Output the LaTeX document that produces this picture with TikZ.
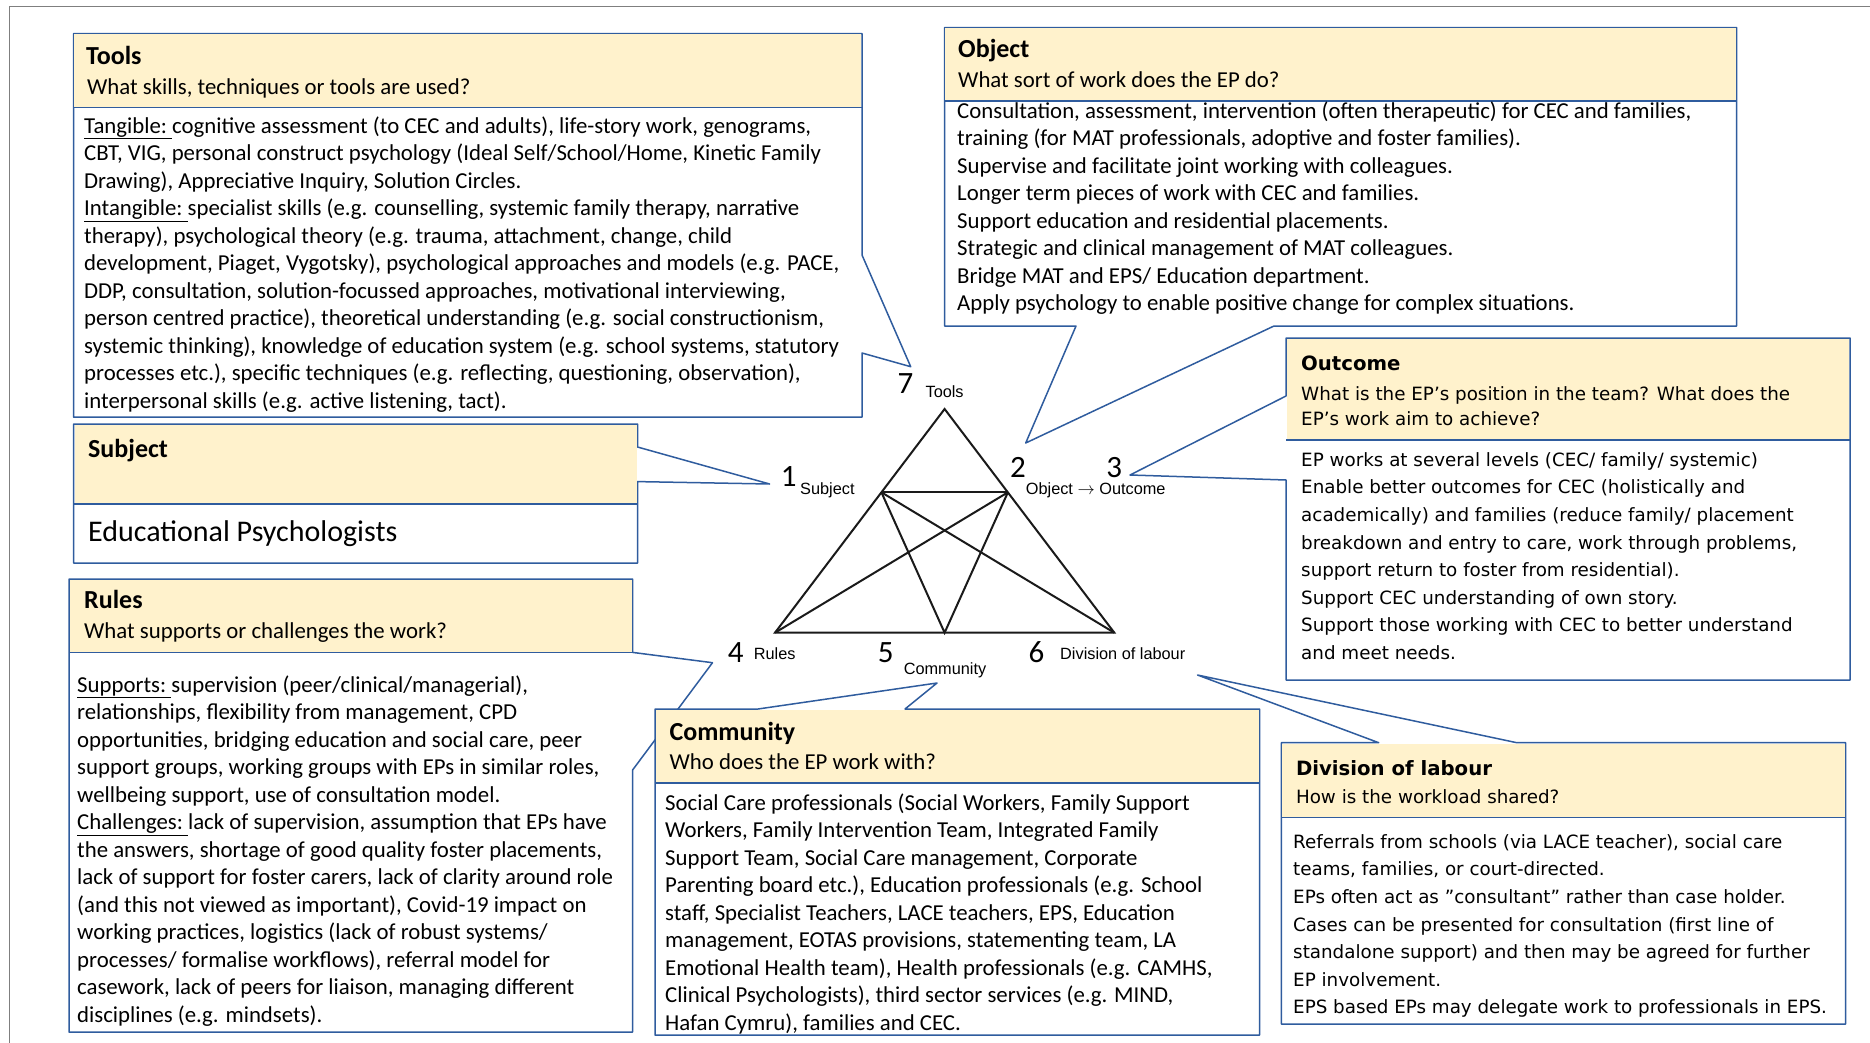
\documentclass[tikz,border=0pt]{standalone}
\usepackage{fontspec}
\newfontfamily\carlito{Carlito}
\newfontfamily\dejavu{DejaVu Sans}
\newfontfamily\libsans{Liberation Sans}
\definecolor{boxblue}{HTML}{2F5C9E}
\definecolor{headyellow}{HTML}{FFF2CC}
\definecolor{framegray}{HTML}{7F7F7F}
\definecolor{inkdark}{HTML}{1A1A1A}
\begin{document}
\begin{tikzpicture}[x=1pt,y=-1pt,
  frame/.style={draw=framegray, line width=1.6pt},
  callout/.style={draw=boxblue, fill=white, line width=1.5pt, line join=round},
  sepline/.style={draw=boxblue, line width=1.5pt},
  headbg/.style={fill=headyellow},
  ctitle/.style={anchor=base west, inner sep=0pt, font=\carlito\bfseries\fontsize{26}{30}\selectfont},
  cquest/.style={anchor=base west, inner sep=0pt, font=\carlito\fontsize{22.8}{27.5}\selectfont},
  cbody/.style={anchor=north west, inner sep=0pt, align=left, font=\carlito\fontsize{22.8}{27.5}\selectfont},
  dtitle/.style={anchor=base west, inner sep=0pt, font=\dejavu\bfseries\fontsize{19.7}{24}\selectfont},
  dquest/.style={anchor=north west, inner sep=0pt, align=left, font=\dejavu\fontsize{18.3}{25}\selectfont},
  dbody/.style={anchor=north west, inner sep=0pt, align=left, font=\dejavu\fontsize{18.3}{27.6}\selectfont},
  num/.style={anchor=base, inner sep=0pt, font=\carlito\fontsize{31}{36}\selectfont},
  vlabel/.style={anchor=base west, inner sep=0pt, font=\libsans\fontsize{16.3}{19}\selectfont},
  tri/.style={draw=inkdark, line width=2pt, line join=miter}]
\useasboundingbox (0,0) rectangle (1870,1043);

% outer frame (top and left edges)
\draw[frame] (9.5,1043) -- (9.5,6.5) -- (1870,6.5);

% callout tips beside the triangle labels
\coordinate (tip7) at (910.7,366.7);
\coordinate (tip1) at (769.6,484);
\coordinate (tip2) at (1025.7,443);
\coordinate (tip3) at (1130,475);
\coordinate (tip4) at (712.5,662.7);
\coordinate (tip5) at (937,683);
\coordinate (tip6) at (1197.5,675);

% ---------------- Tools
\path[callout] (73.5,33.7) -- (862,33.7) -- (862,255) -- (tip7) -- (862,353) -- (862,417) -- (73.5,417) -- cycle;
\fill[headbg] (74.3,34.5) rectangle (861.2,107.7);
\draw[sepline] (73.5,107.7) -- (862,107.7);
\node[ctitle] (toolsT) at (86,65) {Tools};
\node[cquest] (toolsQ) at (87,95) {What skills, techniques or tools are used?};
\node[cbody] (toolsB) at (84,113.75) {\strut\underline{Tangible:\ }cognitive assessment (to CEC and adults), life-story work, genograms,\\
CBT, VIG, personal construct psychology (Ideal Self/School/Home, Kinetic Family\\
Drawing), Appreciative Inquiry, Solution Circles.\\
\underline{Intangible:\ }specialist skills (e.g. counselling, systemic family therapy, narrative\\
therapy), psychological theory (e.g. trauma, attachment, change, child\\
development, Piaget, Vygotsky), psychological approaches and models (e.g. PACE,\\
DDP, consultation, solution-focussed approaches, motivational interviewing,\\
person centred practice), theoretical understanding (e.g. social constructionism,\\
systemic thinking), knowledge of education system (e.g. school systems, statutory\\
processes etc.), specific techniques (e.g. reflecting, questioning, observation),\\
interpersonal skills (e.g. active listening, tact).};

% ---------------- Object
\path[callout] (944.5,27.7) -- (1736.7,27.7) -- (1736.7,326) -- (1274,326) -- (tip2) -- (1076,326) -- (944.5,326) -- cycle;
\fill[headbg] (945.3,28.5) rectangle (1735.9,101);
\draw[sepline] (944.5,101) -- (1736.7,101);
\node[ctitle] (objT) at (958,58) {Object};
\node[cquest] (objQ) at (958,88) {What sort of work does the EP do?};
\node[cbody] (objB) at (957,98.75) {\strut Consultation, assessment, intervention (often therapeutic) for CEC and families,\\
training (for MAT professionals, adoptive and foster families).\\
Supervise and facilitate joint working with colleagues.\\
Longer term pieces of work with CEC and families.\\
Support education and residential placements.\\
Strategic and clinical management of MAT colleagues.\\
Bridge MAT and EPS/ Education department.\\
Apply psychology to enable positive change for complex situations.};

% ---------------- Outcome
\path[callout] (1286,338) -- (1850,338) -- (1850,680) -- (1286,680) -- (1286,480) -- (tip3) -- (1286,396) -- cycle;
\fill[headbg] (1286.8,338.8) rectangle (1849.2,440);
\draw[sepline] (1286,440) -- (1850,440);
\node[dtitle] (outT) at (1301,370) {Outcome};
\node[dquest] (outQ) at (1301,383) {\strut What is the EP’s position in the team? What does the\\EP’s work aim to achieve?};
\node[dbody] (outB) at (1301,446.7) {\strut EP works at several levels (CEC/ family/ systemic)\\
Enable better outcomes for CEC (holistically and\\
academically) and families (reduce family/ placement\\
breakdown and entry to care, work through problems,\\
support return to foster from residential).\\
Support CEC understanding of own story.\\
Support those working with CEC to better understand\\
and meet needs.};

% ---------------- Subject
\path[callout] (73.7,424) -- (637.5,424) -- (637.5,447) -- (tip1) -- (637.5,481.6) -- (637.5,563) -- (73.7,563) -- cycle;
\fill[headbg] (74.5,424.8) rectangle (636.7,504);
\draw[sepline] (73.7,504) -- (637.5,504);
\node[ctitle] (subjT) at (88,457.7) {Subject};
\node[anchor=base west, inner sep=0pt, font=\carlito\fontsize{30}{36}\selectfont] (subjB) at (88,541) {Educational Psychologists};

% ---------------- Rules
\path[callout] (69,579) -- (632.6,579) -- (632.6,652.4) -- (tip4) -- (632.6,770) -- (632.6,1032) -- (69,1032) -- cycle;
\fill[headbg] (69.8,579.8) rectangle (631.8,652.4);
\draw[sepline] (69,652.4) -- (632.6,652.4);
\node[ctitle] (rulesT) at (84,608.7) {Rules};
\node[cquest] (rulesQ) at (84,638.5) {What supports or challenges the work?};
\node[cbody] (rulesB) at (77,672.75) {\strut\underline{Supports:\ }supervision (peer/clinical/managerial),\\
relationships, flexibility from management, CPD\\
opportunities, bridging education and social care, peer\\
support groups, working groups with EPs in similar roles,\\
wellbeing support, use of consultation model.\\
\underline{Challenges:\ }lack of supervision, assumption that EPs have\\
the answers, shortage of good quality foster placements,\\
lack of support for foster carers, lack of clarity around role\\
(and this not viewed as important), Covid-19 impact on\\
working practices, logistics (lack of robust systems/\\
processes/ formalise workflows), referral model for\\
casework, lack of peers for liaison, managing different\\
disciplines (e.g. mindsets).};

% ---------------- Community
\path[callout] (655,709) -- (758,709) -- (tip5) -- (905,709) -- (1259.6,709) -- (1259.6,1035) -- (655,1035) -- cycle;
\fill[headbg] (655.8,709.8) rectangle (1258.8,783);
\draw[sepline] (655,783) -- (1259.6,783);
\node[ctitle] (commT) at (669.4,740) {Community};
\node[cquest] (commQ) at (669.4,769) {Who does the EP work with?};
\node[cbody] (commB) at (665,790.75) {\strut Social Care professionals (Social Workers, Family Support\\
Workers, Family Intervention Team, Integrated Family\\
Support Team, Social Care management, Corporate\\
Parenting board etc.), Education professionals (e.g. School\\
staff, Specialist Teachers, LACE teachers, EPS, Education\\
management, EOTAS provisions, statementing team, LA\\
Emotional Health team), Health professionals (e.g. CAMHS,\\
Clinical Psychologists), third sector services (e.g. MIND,\\
Hafan Cymru), families and CEC.};

% ---------------- Division of labour
\path[callout] (1281.4,742.7) -- (1378.7,742.7) -- (tip6) -- (1516.8,742.7) -- (1845.6,742.7) -- (1845.6,1024) -- (1281.4,1024) -- cycle;
\fill[headbg] (1282.2,743.5) rectangle (1844.8,817.7);
\draw[sepline] (1281.4,817.7) -- (1845.6,817.7);
\node[dtitle] (divT) at (1295.8,775.5) {Division of labour};
\node[dquest] (divQ) at (1295.8,786.1) {\strut How is the workload shared?};
\node[dbody] (divB) at (1293,828.7) {\strut Referrals from schools (via LACE teacher), social care\\
teams, families, or court-directed.\\
EPs often act as ”consultant” rather than case holder.\\
Cases can be presented for consultation (first line of\\
standalone support) and then may be agreed for further\\
EP involvement.\\
EPS based EPs may delegate work to professionals in EPS.};

% ---------------- activity triangle
\coordinate (apex) at (944.6,409);
\coordinate (bl) at (775,632.7);
\coordinate (br) at (1114.3,632.7);
\coordinate (bm) at (944.6,632.7);
\coordinate (ml) at (881.4,492.3);
\coordinate (mr) at (1007.9,492.3);
\draw[tri] (apex) -- (bl) -- (br) -- cycle;
\draw[tri] (ml) -- (mr);
\draw[tri] (ml) -- (bm) -- (mr);
\draw[tri] (ml) -- (br);
\draw[tri] (mr) -- (bl);

% ---------------- triangle labels
\node[num] (n7) at (905.4,393.3) {7};
\node[vlabel, anchor=base] (lTools) at (944.6,397.3) {Tools};
\node[num] (n1) at (788.6,486.7) {1};
\node[vlabel] (lSubject) at (800,494) {Subject};
\node[num] (n2) at (1017.9,477) {2};
\node[vlabel] (lObject) at (1025.7,494.3) {Object $\rightarrow$ Outcome};
\node[num] (n3) at (1114.3,477) {3};
\node[num] (n4) at (735.7,662.7) {4};
\node[vlabel] (lRules) at (753.6,659.3) {Rules};
\node[num] (n5) at (885.7,662.7) {5};
\node[vlabel] (lCommunity) at (903.6,674.3) {Community};
\node[num] (n6) at (1036.4,662.7) {6};
\node[vlabel] (lDivision) at (1060,659.3) {Division of labour};
\end{tikzpicture}
\end{document}
